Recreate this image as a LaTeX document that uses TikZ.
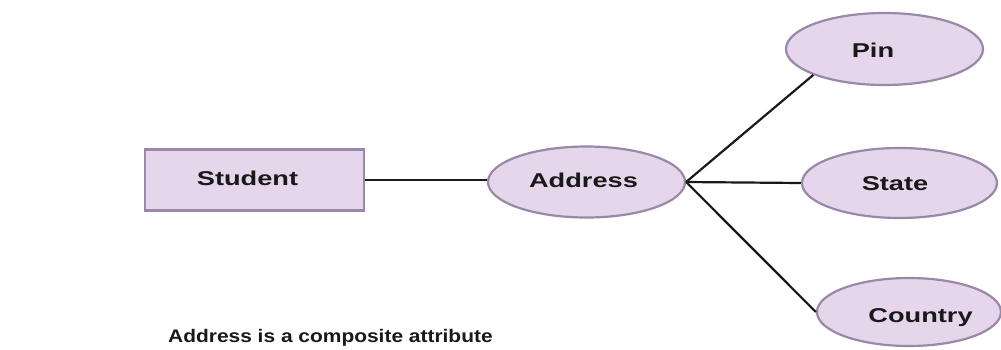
\documentclass[tikz,border=0pt]{standalone}
\usepackage{fontspec}
\setmainfont{Liberation Sans}
\newfontfamily\nodefont{Liberation Sans}[FakeStretch=1.36]
\newfontfamily\capfont{Liberation Sans}[FakeStretch=1.15]
\usetikzlibrary{shapes.geometric}
\definecolor{boxfill}{HTML}{E5D6EB}
\definecolor{boxline}{HTML}{9A88A8}
\definecolor{linkcol}{HTML}{1A1A1A}
\tikzset{
  entitybox/.style={rectangle, draw=boxline, fill=boxfill, line width=2.2pt, minimum width=219pt, minimum height=61pt, inner sep=0pt},
  attrib/.style={ellipse, draw=boxline, fill=boxfill, line width=2.2pt, inner sep=0pt},
  txt/.style={font=\nodefont\bfseries\fontsize{20}{22}\selectfont, inner sep=0pt, text=black!90},
  link/.style={draw=linkcol, line width=2.2pt},
}
\begin{document}
\begin{tikzpicture}[x=1pt,y=-1pt]
\useasboundingbox (0,0) rectangle (1001,349);
\fill[white] (0,0) rectangle (1001,349);
\node[entitybox] (student) at (254.5,180) {};
\node[txt] (studentT) at (247.5,178) {Student};
\node[attrib, minimum width=197pt, minimum height=71pt] (address) at (586.5,182) {};
\node[txt] (addressT) at (583.5,180) {Address};
\node[attrib, minimum width=197pt, minimum height=72pt] (pin) at (884.5,49) {};
\node[txt] (pinT) at (873,50) {Pin};
\node[attrib, minimum width=195pt, minimum height=70pt] (state) at (899.5,183) {};
\node[txt] (stateT) at (895,184) {State};
\node[attrib, minimum width=184pt, minimum height=68pt] (country) at (909,312) {};
\node[txt] (countryT) at (920.5,317.5) {Country};
\node[font=\capfont\bfseries\fontsize{18.2}{21}\selectfont, inner sep=0pt, anchor=west, text=black!90] (caption) at (168,337.5) {Address is a composite attribute};
\draw[link] (student.east) -- (address.west |- student.east);
\draw[link] (address.east) -- (pin.200);
\draw[link] (address.east) -- (state.west);
\draw[link] (address.east) -- (country.west);
\end{tikzpicture}
\end{document}
